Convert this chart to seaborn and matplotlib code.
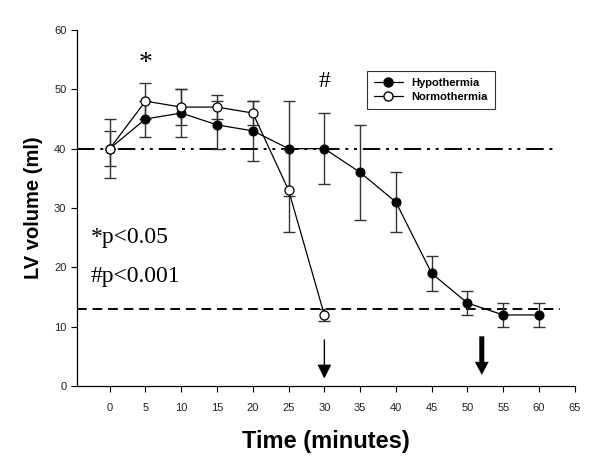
import numpy as np
import pandas as pd
import matplotlib
matplotlib.use("Agg")
import matplotlib.pyplot as plt
import seaborn as sns
from matplotlib.lines import Line2D

sns.set_style("ticks")
plt.rcParams['font.family'] = ['Liberation Sans', 'DejaVu Sans']
plt.rcParams['text.color'] = 'black'
plt.rcParams['axes.labelcolor'] = 'black'

time_hypo = [0, 5, 10, 15, 20, 25, 30, 35, 40, 45, 50, 55, 60]
vol_hypo = [40, 45, 46, 44, 43, 40, 40, 36, 31, 19, 14, 12, 12]
err_hypo = [5, 3, 4, 4, 5, 8, 6, 8, 5, 3, 2, 2, 2]

time_normo = [0, 5, 10, 15, 20, 25, 30]
vol_normo = [40, 48, 47, 47, 46, 33, 12]
err_normo = [3, 3, 3, 2, 2, 7, 1]

series_names = ["Hypothermia", "Normothermia"]
x_ticks = list(range(0, 70, 5))
y_ticks = list(range(0, 70, 10))
baseline_level = 40
threshold_level = 13
arrow_times = [30, 52]

fig = plt.figure(figsize=(6.0, 4.67), dpi=100)
ax = fig.add_axes([0.128, 0.173, 0.83, 0.763])

df_h = pd.DataFrame({"t": time_hypo, "v": vol_hypo})
df_n = pd.DataFrame({"t": time_normo, "v": vol_normo})

# reference lines
ax.plot([-4.6, 62.5], [baseline_level, baseline_level], color="black", lw=1.4,
        dashes=[9, 3, 1.5, 3, 1.5, 3], zorder=1)
ax.plot([-4.6, 63], [threshold_level, threshold_level], color="black", lw=1.4,
        dashes=[5, 3], zorder=1)

# error bars
ax.errorbar(time_hypo, vol_hypo, yerr=err_hypo, fmt="none", ecolor="#333333",
            elinewidth=1.0, capsize=4, capthick=1.0, zorder=2)
ax.errorbar(time_normo, vol_normo, yerr=err_normo, fmt="none", ecolor="#333333",
            elinewidth=1.0, capsize=4, capthick=1.0, zorder=2)

sns.lineplot(data=df_h, x="t", y="v", ax=ax, color="black", lw=0.9,
             marker="o", markersize=6.5, markerfacecolor="black",
             markeredgecolor="black", zorder=4, legend=False)
sns.lineplot(data=df_n, x="t", y="v", ax=ax, color="black", lw=0.9,
             marker="o", markersize=6.5, markerfacecolor="white",
             markeredgecolor="black", markeredgewidth=0.9, zorder=5, legend=False)

# arrows
ax.annotate("", xy=(arrow_times[0], 1.3), xytext=(arrow_times[0], 7.8),
            arrowprops=dict(arrowstyle="-|>,head_length=0.6,head_width=0.3",
                            color="black", lw=1.0,
                            mutation_scale=14, shrinkA=0, shrinkB=0))
ax.annotate("", xy=(arrow_times[1], 1.9), xytext=(arrow_times[1], 8.4),
            arrowprops=dict(arrowstyle="simple,head_length=0.47,head_width=0.5,tail_width=0.18",
                            color="black", lw=0,
                            mutation_scale=20, shrinkA=0, shrinkB=0))

serif = ['Liberation Serif', 'DejaVu Serif']
ax.text(5, 54.3, "*", ha="center", va="center", fontsize=20, family=serif)
ax.text(30, 51.3, "#", ha="center", va="center", fontsize=17, family=serif)
ax.text(-2.6, 25, "*p<0.05", ha="left", va="center", fontsize=17, family=serif)
ax.text(-2.6, 18.5, "#p<0.001", ha="left", va="center", fontsize=17, family=serif)

handles = [
    Line2D([], [], color="black", lw=0.9, marker="o", markersize=6.5,
           markerfacecolor="black", markeredgecolor="black"),
    Line2D([], [], color="black", lw=0.9, marker="o", markersize=6.5,
           markerfacecolor="white", markeredgecolor="black"),
]
leg = ax.legend(handles, series_names, loc="center", bbox_to_anchor=(431/600, 1 - 90/467),
                bbox_transform=fig.transFigure, frameon=True, fancybox=False,
                edgecolor="black", prop={"weight": "bold", "size": 8},
                handlelength=2.6, borderpad=0.6, labelspacing=0.4)
leg.get_frame().set_linewidth(0.8)

ax.set_xlim(-4.6, 65)
ax.set_ylim(0, 60)
ax.set_xticks(x_ticks)
ax.set_yticks(y_ticks)
ax.tick_params(labelsize=8, length=4, width=0.8, colors="black")
for lbl in ax.get_xticklabels() + ax.get_yticklabels():
    lbl.set_color("#222222")
ax.tick_params(axis="x", pad=8)
sns.despine(ax=ax)
for s in ["left", "bottom"]:
    ax.spines[s].set_linewidth(0.9)
    ax.spines[s].set_color("black")

ax.set_xlabel("Time (minutes)", fontsize=17, fontweight="bold", labelpad=12)
ax.set_ylabel("LV volume (ml)", fontsize=14.5, fontweight="bold", labelpad=8)

fig.savefig("out.png", dpi=100)
